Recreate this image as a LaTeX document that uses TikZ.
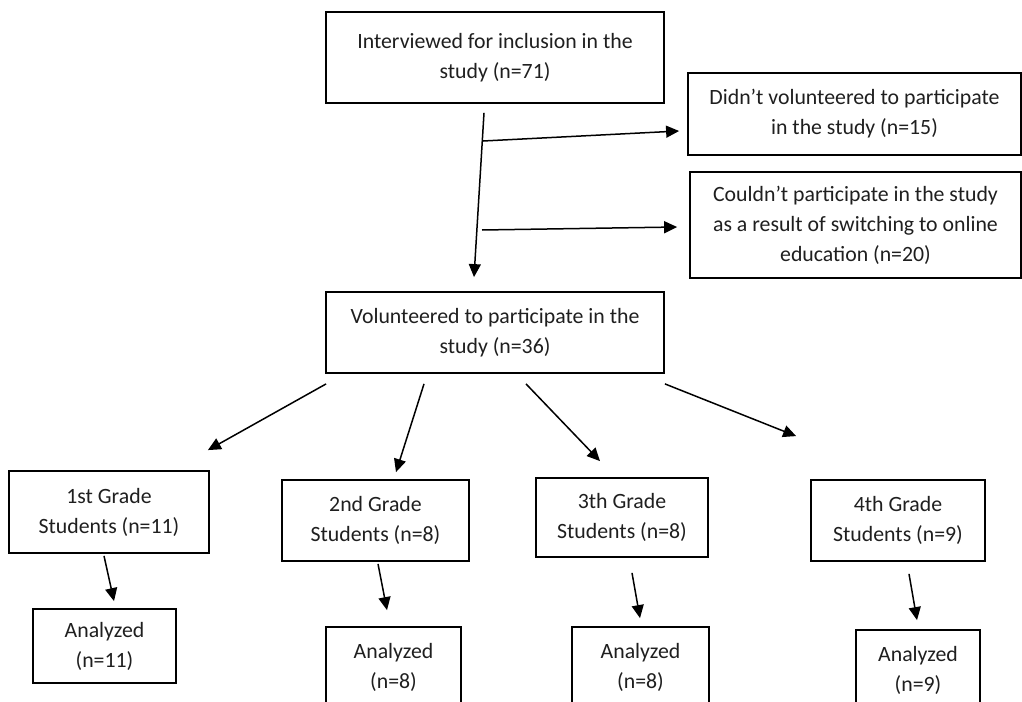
\documentclass[tikz,border=0pt]{standalone}
\usepackage{fontspec}
\setmainfont{Carlito}
\usetikzlibrary{arrows.meta}
\tikzset{
  box/.style={draw=black, line width=1.8pt, inner sep=0pt, align=center,
    font=\fontsize{21.8pt}{30pt}\selectfont, text=black!88},
  arr/.style={draw=black, line width=1.5pt, -{Triangle[length=13pt,width=12pt]}},
  lin/.style={draw=black, line width=1.5pt}
}
\begin{document}
\begin{tikzpicture}[x=1pt,y=-1pt]
\useasboundingbox (0,0) rectangle (1022,701);
\clip (0,0) rectangle (1022,701);
\fill[white] (0,0) rectangle (1022,701);

\node[box, minimum width=338pt, minimum height=91pt] (top) at (495,57.5) {Interviewed for inclusion in the\\study (n=71)};
\node[box, minimum width=333pt, minimum height=82pt] (didnt) at (854.5,114) {Didn’t volunteered to participate\\in the study (n=15)};
\node[box, minimum width=331pt, minimum height=106pt] (couldnt) at (855.5,225) {Couldn’t participate in the study\\as a result of switching to online\\education (n=20)};
\node[box, minimum width=338pt, minimum height=81pt] (vol) at (495,332.5) {Volunteered to participate in the\\study (n=36)};

\node[box, minimum width=200pt, minimum height=82pt] (g1) at (109,512) {1st Grade\\Students (n=11)};
\node[box, minimum width=187pt, minimum height=81pt] (g2) at (375.5,520.5) {2nd Grade\\Students (n=8)};
\node[box, minimum width=172pt, minimum height=79pt] (g3) at (622,517.5) {3th Grade\\Students (n=8)};
\node[box, minimum width=174pt, minimum height=81pt] (g4) at (898,520.5) {4th Grade\\Students (n=9)};

\node[box, minimum width=143pt, minimum height=74pt] (a1) at (104.5,646) {Analyzed\\(n=11)};
\node[box, minimum width=135pt, minimum height=80pt] (a2) at (393.5,667) {Analyzed\\(n=8)};
\node[box, minimum width=137pt, minimum height=80pt] (a3) at (640.5,667) {Analyzed\\(n=8)};
\node[box, minimum width=124pt, minimum height=80pt] (a4) at (918,670) {Analyzed\\(n=9)};

% main vertical arrow
\draw[arr] ([xshift=-11pt,yshift=-9pt]top.south) -- ([xshift=-21pt,yshift=14pt]vol.north);
\coordinate (j1) at (483,141);
\coordinate (j2) at (482,230);
\draw[arr] (j1) -- ([xshift=-8pt,yshift=-17pt]didnt.west);
\draw[arr] (j2) -- ([xshift=-12pt,yshift=-2pt]couldnt.west);

% split arrows
\draw[arr] ([xshift=1pt,yshift=-10pt]vol.south west) -- ([xshift=-2pt,yshift=20pt]g1.north east);
\draw[arr] ([xshift=-71pt,yshift=-10pt]vol.south) -- ([xshift=20.5pt,yshift=7pt]g2.north);
\draw[arr] ([xshift=31pt,yshift=-10pt]vol.south) -- ([xshift=-22pt,yshift=16pt]g3.north);
\draw[arr] ([xshift=0pt,yshift=-10pt]vol.south east) -- ([xshift=-14pt,yshift=43pt]g4.north west);

% grade to analyzed
\draw[arr] ([xshift=-5pt,yshift=-2pt]g1.south) -- ([xshift=9.5pt,yshift=7pt]a1.north);
\draw[arr] ([xshift=2.5pt,yshift=-2pt]g2.south) -- ([xshift=-6.5pt,yshift=16pt]a2.north);
\draw[arr] ([xshift=10pt,yshift=-15pt]g3.south) -- ([xshift=-0.5pt,yshift=8pt]a3.north);
\draw[arr] ([xshift=11pt,yshift=-12pt]g4.south) -- ([xshift=-1pt,yshift=9pt]a4.north);
\end{tikzpicture}
\end{document}
